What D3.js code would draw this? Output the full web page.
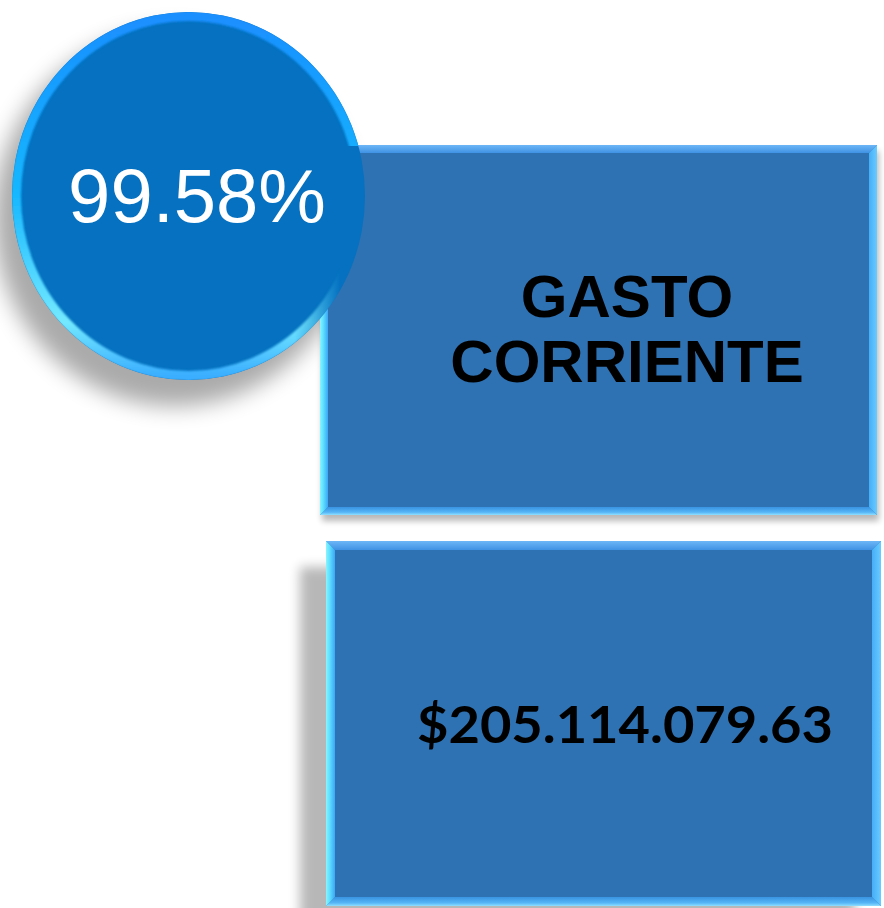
<!DOCTYPE html>
<html>
<head>
<meta charset="utf-8">
<script src="https://cdn.jsdelivr.net/npm/d3@7"></script>
<style>
  html, body { margin: 0; padding: 0; background: #fff; }
  svg { display: block; }
</style>
</head>
<body>
<script>
//W and H
var w = 884;
var h = 908;

//text values
var percentLabels = ["99.58%"];
var titleLines = ["GASTO", "CORRIENTE"];
var amountLabels = ["$205.114.079.63"];

//boxes (layout only)
var boxes = [
    { id: "title", x0: 320, y0: 145, x1: 877, y1: 515, b: 8, sdx: 2, sdy: 6, sblur: 3 },
    { id: "amount", x0: 326, y0: 541, x1: 881, y1: 906, b: 9, sdx: -26, sdy: 26, sblur: 6 }
];

//circle
var circ = { cx: 188.5, cy: 196, rx: 176.5, ry: 184 };

var svg = d3.select("body")
    .append("svg")
    .attr("width", w)
    .attr("height", h);

var defs = svg.append("defs");

//blur filters
function blurFilter(id, sd) {
    defs.append("filter")
        .attr("id", id)
        .attr("x", "-30%").attr("y", "-30%")
        .attr("width", "160%").attr("height", "160%")
        .append("feGaussianBlur")
        .attr("stdDeviation", sd);
}
blurFilter("blur3", 3);
blurFilter("blur6", 6);
blurFilter("blur11", 11);
blurFilter("blur1", 1.2);

//linear gradient helper
function grad(id, x1, y1, x2, y2, stops) {
    var g = defs.append("linearGradient")
        .attr("id", id)
        .attr("x1", x1).attr("y1", y1)
        .attr("x2", x2).attr("y2", y2);
    g.selectAll("stop")
        .data(stops)
        .enter()
        .append("stop")
        .attr("offset", function(d) { return d[0]; })
        .attr("stop-color", function(d) { return d[1]; })
        .attr("stop-opacity", function(d) { return d.length > 2 ? d[2] : 1; });
}

//bevel gradients (outer -> inner)
grad("bvTop", 0, 0, 0, 1, [[0, "#6DB6F7"], [1, "#3F92E4"]]);
grad("bvLeft", 0, 0, 1, 0, [[0, "#8AF4FF"], [0.4, "#5FE0FF"], [1, "#3AA6F5"]]);
grad("bvRight", 1, 0, 0, 0, [[0, "#6ACBFF"], [1, "#45AEF7"]]);
grad("bvBottom", 0, 1, 0, 0, [[0, "#8FDFFF"], [0.35, "#55B5F6"], [1, "#3993E2"]]);

//circle rim
grad("rimColor", 0, 0, 0, 1, [[0, "#1A8FFF"], [0.5, "#18B8FF"], [0.85, "#74E9FF"], [1, "#3AAEFF"]]);
grad("rimFade", 0, 0, 1, 0, [[0, "#fff"], [0.8, "#fff"], [0.93, "#000"], [1, "#000"]]);

var mask = defs.append("mask")
    .attr("id", "rimMask")
    .attr("maskUnits", "userSpaceOnUse")
    .attr("x", 0).attr("y", 0).attr("width", w).attr("height", h);
mask.append("rect")
    .attr("x", circ.cx - circ.rx)
    .attr("y", 0)
    .attr("width", circ.rx * 2)
    .attr("height", h)
    .attr("fill", "url(#rimFade)");
//keep rim along the top right
mask.append("rect")
    .attr("x", circ.cx)
    .attr("y", 0)
    .attr("width", circ.rx)
    .attr("height", circ.cy - 50)
    .attr("fill", "#fff");

defs.append("clipPath")
    .attr("id", "circClip")
    .append("ellipse")
    .attr("cx", circ.cx).attr("cy", circ.cy)
    .attr("rx", circ.rx).attr("ry", circ.ry);

//circle shadow
svg.append("ellipse")
    .attr("cx", circ.cx - 14)
    .attr("cy", circ.cy + 22)
    .attr("rx", circ.rx + 4)
    .attr("ry", circ.ry + 4)
    .attr("fill", "#000")
    .attr("opacity", 0.33)
    .attr("filter", "url(#blur11)");

//boxes
var box = svg.selectAll("g.box")
    .data(boxes)
    .enter()
    .append("g")
    .attr("class", "box");

box.append("rect")
    .attr("x", function(d) { return d.x0 + d.sdx; })
    .attr("y", function(d) { return d.y0 + d.sdy; })
    .attr("width", function(d) { return d.x1 - d.x0; })
    .attr("height", function(d) { return d.y1 - d.y0; })
    .attr("fill", "#000")
    .attr("opacity", 0.28)
    .attr("filter", function(d) { return d.sblur > 4 ? "url(#blur6)" : "url(#blur3)"; });

box.append("rect")
    .attr("x", function(d) { return d.x0; })
    .attr("y", function(d) { return d.y0; })
    .attr("width", function(d) { return d.x1 - d.x0; })
    .attr("height", function(d) { return d.y1 - d.y0; })
    .attr("fill", "#2E72B3");

var sides = function(d) {
    var x0 = d.x0, y0 = d.y0, x1 = d.x1, y1 = d.y1, b = d.b;
    return [
        { fill: "url(#bvTop)", pts: [[x0, y0], [x1, y0], [x1 - b, y0 + b], [x0 + b, y0 + b]] },
        { fill: "url(#bvBottom)", pts: [[x0, y1], [x1, y1], [x1 - b, y1 - b], [x0 + b, y1 - b]] },
        { fill: "url(#bvLeft)", pts: [[x0, y0], [x0 + b, y0 + b], [x0 + b, y1 - b], [x0, y1]] },
        { fill: "url(#bvRight)", pts: [[x1, y0], [x1 - b, y0 + b], [x1 - b, y1 - b], [x1, y1]] }
    ];
};

box.selectAll("path.bevel")
    .data(sides)
    .enter()
    .append("path")
    .attr("class", "bevel")
    .attr("d", function(d) { return "M" + d.pts.join("L") + "Z"; })
    .attr("fill", function(d) { return d.fill; });

//title text
svg.append("text")
    .attr("text-anchor", "middle")
    .attr("font-family", "'Liberation Sans', Arial, sans-serif")
    .attr("font-weight", "bold")
    .attr("font-size", 60)
    .attr("fill", "#000")
    .selectAll("tspan")
    .data(titleLines)
    .enter()
    .append("tspan")
    .attr("x", 627)
    .attr("y", function(d, i) { return 317 + i * 65; })
    .text(function(d) { return d; });

//amount text
svg.selectAll("text.amount")
    .data(amountLabels)
    .enter()
    .append("text")
    .attr("class", "amount")
    .attr("x", 417)
    .attr("y", 743)
    .attr("font-family", "Lato, 'Open Sans', sans-serif")
    .attr("font-weight", "bold")
    .attr("font-size", 51)
    .attr("textLength", 416)
    .attr("lengthAdjust", "spacingAndGlyphs")
    .attr("fill", "#000")
    .text(function(d) { return d; });

//circle on top
svg.append("ellipse")
    .attr("cx", circ.cx).attr("cy", circ.cy)
    .attr("rx", circ.rx).attr("ry", circ.ry)
    .attr("fill", "#0571C0");

var rim = svg.append("g")
    .attr("clip-path", "url(#circClip)")
    .append("g")
    .attr("mask", "url(#rimMask)");

rim.append("ellipse")
    .attr("cx", circ.cx).attr("cy", circ.cy)
    .attr("rx", circ.rx - 4).attr("ry", circ.ry - 4)
    .attr("fill", "none")
    .attr("stroke", "url(#rimColor)")
    .attr("stroke-width", 10)
    .attr("filter", "url(#blur1)");

svg.selectAll("text.pct")
    .data(percentLabels)
    .enter()
    .append("text")
    .attr("class", "pct")
    .attr("x", 197)
    .attr("y", 222)
    .attr("text-anchor", "middle")
    .attr("font-family", "'Liberation Sans', Arial, sans-serif")
    .attr("font-size", 76)
    .attr("fill", "#fff")
    .text(function(d) { return d; });
</script>
</body>
</html>
